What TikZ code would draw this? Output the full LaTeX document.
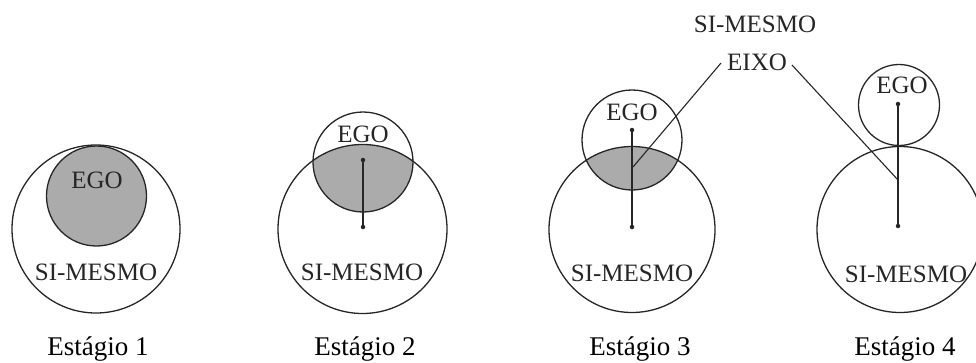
\documentclass[tikz,border=0pt]{standalone}
\usepackage{fontspec}
\setmainfont{Liberation Serif}
\definecolor{egogray}{gray}{0.67}
\definecolor{ink}{gray}{0.15}
\begin{document}
\begin{tikzpicture}[x=1pt,y=-1pt, line width=1.3pt, draw=ink,
  lbl/.style={font=\fontsize{25}{30}\selectfont, anchor=base, inner sep=0pt, text=ink},
  stage/.style={font=\fontsize{27}{32}\selectfont, anchor=base, inner sep=0pt, text=black},
  dotmark/.style={fill=ink, circle, inner sep=0pt, minimum size=4.5pt}]
\useasboundingbox (0,0) rectangle (976,362);
% ---------- Stage 1
\coordinate (s1) at (96,229);
\coordinate (e1) at (96.5,196);
\draw[ink] (s1) circle[radius=84];
\draw[ink, fill=egogray] (e1) circle[radius=50];
\node[lbl] (ego1) at (97,188) {EGO};
\node[lbl] (self1) at (96,280) {SI-MESMO};
\node[stage] (st1) at (98,355) {Estágio 1};
% ---------- Stage 2
\coordinate (s2) at (362.5,229);
\coordinate (e2) at (363,162);
\begin{scope}
  \clip (s2) circle[radius=84.5];
  \fill[egogray] (e2) circle[radius=50];
\end{scope}
\draw[ink] (s2) circle[radius=84.5];
\draw[ink] (e2) circle[radius=50];
\node[dotmark] (d2a) at (363,160) {};
\node[dotmark] (d2b) at (363,227) {};
\draw[ink] (d2a.center) -- (d2b.center);
\node[lbl] (ego2) at (363,142) {EGO};
\node[lbl] (self2) at (362,280) {SI-MESMO};
\node[stage] (st2) at (365,355) {Estágio 2};
% ---------- Stage 3
\coordinate (s3) at (632,229.5);
\coordinate (e3) at (632,140);
\begin{scope}
  \clip (s3) circle[radius=83];
  \fill[egogray] (e3) circle[radius=50];
\end{scope}
\draw[ink] (s3) circle[radius=83];
\draw[ink] (e3) circle[radius=50];
\node[dotmark] (d3a) at (632,130) {};
\node[dotmark] (d3b) at (632,227) {};
\draw[ink] (d3a.center) -- (d3b.center);
\node[lbl] (ego3) at (632,120) {EGO};
\node[lbl] (self3) at (632,281) {SI-MESMO};
\node[stage] (st3) at (640,355) {Estágio 3};
% ---------- Stage 4
\coordinate (s4) at (900,229.5);
\coordinate (e4) at (899,105);
\draw[ink] (s4) circle[radius=83];
\draw[ink] (e4) circle[radius=40.5];
\node[dotmark] (d4a) at (898,104) {};
\node[dotmark] (d4b) at (898,226) {};
\draw[ink] (d4a.center) -- (d4b.center);
\node[lbl] (ego4) at (902,93) {EGO};
\node[lbl] (self4) at (906,282) {SI-MESMO};
\node[stage] (st4) at (905,355) {Estágio 4};
% ---------- Axis labels
\node[lbl] (selftop) at (755,32) {SI-MESMO};
\node[lbl] (eixo) at (757,70) {EIXO};
\coordinate (eixoL) at (721,63);
\coordinate (eixoR) at (792,65);
\coordinate (ax3) at (633,167);
\coordinate (ax4) at (898,180);
\draw[ink, line width=1.1pt] (eixoL) -- (ax3);
\draw[ink, line width=1.1pt] (eixoR) -- (ax4);
\end{tikzpicture}
\end{document}
